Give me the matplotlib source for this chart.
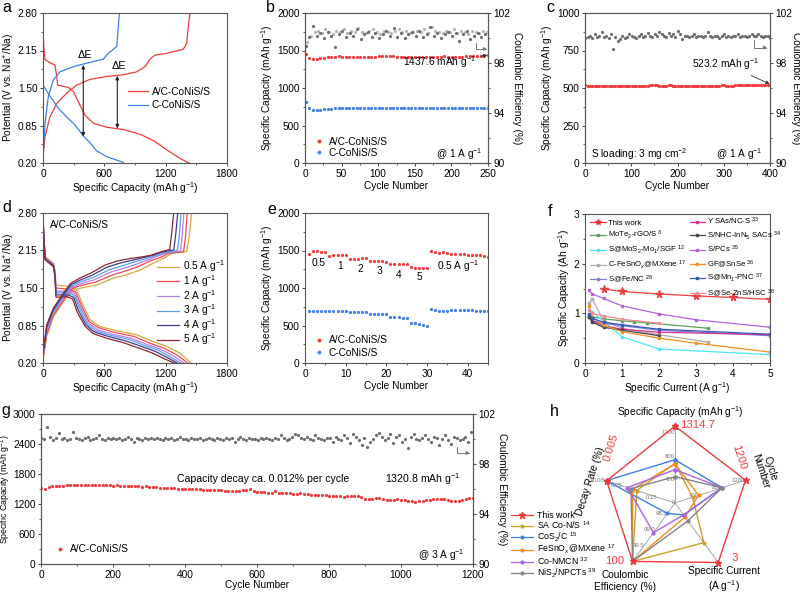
import numpy as np
import matplotlib
matplotlib.use('Agg')
import matplotlib.pyplot as plt
from matplotlib.ticker import AutoMinorLocator, FormatStrFormatter
from matplotlib.lines import Line2D

# ---------------- data ----------------
# panel a : charge/discharge profiles
a_ac_dis_cap = [0, 8, 20, 68, 117, 134, 143, 248, 297, 346, 411, 492, 623, 786, 949, 1079, 1209, 1340, 1438]
a_ac_dis_v = [2.55, 2.2, 1.99, 1.94, 1.90, 1.70, 1.55, 1.51, 1.44, 1.26, 1.03, 0.89, 0.82, 0.78, 0.70, 0.59, 0.43, 0.28, 0.19]
a_ac_ch_cap = [0, 20, 68, 134, 231, 329, 460, 623, 786, 916, 998, 1047, 1095, 1209, 1372, 1405, 1421, 1438]
a_ac_ch_v = [0.31, 0.66, 1.00, 1.23, 1.41, 1.55, 1.65, 1.70, 1.73, 1.78, 1.87, 2.00, 2.07, 2.10, 2.17, 2.27, 2.56, 2.80]
a_c_dis_cap = [0, 68, 150, 231, 313, 394, 460, 525, 623, 786]
a_c_dis_v = [1.55, 1.36, 1.15, 1.00, 0.86, 0.67, 0.55, 0.41, 0.31, 0.21]
a_c_ch_cap = [0, 20, 52, 101, 166, 297, 427, 590, 639, 721, 737, 747]
a_c_ch_v = [0.37, 0.89, 1.35, 1.64, 1.78, 1.87, 1.93, 2.00, 2.10, 2.22, 2.56, 2.80]
a_de_x = [394, 727]
a_de_low = [0.66, 0.80]
a_de_high = [1.90, 1.71]

# panel b : cycling at 1 A/g (every 5 cycles)
b_ac = [1460, 1395, 1390, 1393, 1398, 1402, 1408, 1415, 1420, 1421, 1419, 1416, 1414, 1416, 1418, 1417, 1415,
        1414, 1416, 1419, 1421, 1423, 1425, 1424, 1422, 1420, 1418, 1417, 1416, 1418, 1420, 1419, 1417, 1416,
        1415, 1416, 1418, 1420, 1421, 1420, 1418, 1417, 1416, 1418, 1421, 1423, 1425, 1427, 1430, 1433, 1437.6]
b_c = [808, 730, 705, 708, 712, 718, 722, 726, 728, 730, 731, 732, 733, 734, 735, 734, 733, 732, 731, 730, 730,
       729, 729, 728, 728, 728, 729, 729, 730, 730, 730, 731, 731, 731, 732, 732, 733, 733, 734, 734, 735, 735,
       736, 736, 737, 737, 738, 738, 737, 737, 736]
b_ce1 = [99.4, 100.1, 101.0, 100.2, 100.4, 100.0, 100.5, 100.2, 99.3, 100.3, 100.6, 100.1, 100.4, 100.2, 100.7,
         99.9, 100.3, 100.5, 100.1, 100.4, 100.0, 100.3, 100.6, 100.2, 100.8, 100.1, 100.4, 100.0, 100.3, 100.5,
         100.2, 100.6, 100.1, 100.3, 100.9, 100.2, 100.4, 100.0, 100.3, 100.5, 100.2, 100.4, 99.8, 100.3, 100.6,
         99.9, 100.2, 100.4, 100.1, 100.3]
b_ce2 = [99.7, 100.2, 100.5, 100.6, 100.4, 100.7, 100.5, 100.3, 100.6, 100.5, 100.7, 100.4, 100.6, 100.5, 100.8,
         100.5, 100.4, 100.6, 100.7, 100.5, 100.3, 100.6, 100.5, 100.4, 100.6, 100.7, 100.5, 100.6, 100.4, 100.5,
         100.6, 100.5, 100.7, 100.4, 100.9, 100.6, 100.5, 100.4, 100.6, 100.5, 100.7, 100.4, 100.6, 100.5, 100.3,
         100.6, 100.5, 100.4, 100.6, 100.5]

# panel c : high loading (every 5 cycles)
c_ac = [520, 516, 515, 514, 513, 513, 514, 515, 514, 513, 512, 512, 513, 514, 513, 512, 512, 513, 514, 515, 514,
        513, 513, 512, 513, 514, 515, 516, 517, 517, 518, 517, 516, 515, 515, 516, 517, 517, 516, 515, 514, 514,
        515, 515, 516, 515, 514, 514, 513, 513, 514, 515, 516, 516, 515, 514, 514, 515, 516, 517, 517, 516, 515,
        515, 516, 517, 518, 518, 519, 519, 520, 520, 519, 519, 520, 521, 521, 522, 522, 523, 523.2]
c_ce = [100.0, 100.1, 100.2, 100.0, 100.3, 100.1, 100.2, 100.5, 100.1, 100.2, 100.0, 100.3, 99.1, 100.1, 99.8,
        99.9, 100.2, 100.0, 100.1, 100.3, 100.2, 100.1, 100.0, 100.2, 100.3, 100.1, 100.2, 100.4, 100.2, 100.1,
        100.3, 100.2, 100.5, 100.3, 100.2, 100.1, 100.4, 100.2, 100.3, 100.1, 100.6, 100.3, 99.9, 100.2, 100.2,
        100.1, 100.2, 100.3, 100.1, 100.2, 100.2, 100.1, 100.2, 100.5, 100.2, 100.1, 100.2, 100.2, 100.0, 100.2,
        100.3, 100.1, 100.2, 100.1, 100.2, 100.2, 100.3, 100.1, 100.2, 100.2, 100.1, 100.2, 100.3, 100.2, 100.2,
        100.3, 100.2, 100.1, 100.2, 100.2, 100.0]

# panel d : rate profiles
d_rates = ['0.5 A g$^{-1}$', '1 A g$^{-1}$', '2 A g$^{-1}$', '3 A g$^{-1}$', '4 A g$^{-1}$', '5 A g$^{-1}$']
d_colors = ['#d4a83a', '#f0474f', '#b77de6', '#5e9ce8', '#3a3f8c', '#8c2630']
d_dis_cap = [
    [0, 20, 101, 117, 127, 248, 329, 378, 460, 557, 720, 916, 1079, 1209, 1340, 1454],
    [0, 20, 101, 117, 127, 248, 320, 370, 450, 545, 700, 890, 1050, 1180, 1310, 1425],
    [0, 20, 101, 117, 127, 248, 315, 362, 440, 530, 680, 860, 1020, 1150, 1280, 1390],
    [0, 20, 101, 117, 127, 248, 310, 355, 430, 515, 660, 840, 1000, 1130, 1250, 1360],
    [0, 20, 101, 117, 127, 240, 300, 345, 420, 500, 640, 815, 975, 1100, 1220, 1325],
    [0, 20, 101, 117, 127, 230, 290, 335, 410, 490, 620, 790, 950, 1075, 1190, 1295]]
d_dis_v = [
    [2.74, 2.04, 1.93, 1.81, 1.55, 1.53, 1.47, 1.26, 0.95, 0.83, 0.76, 0.69, 0.57, 0.49, 0.37, 0.19],
    [2.72, 2.03, 1.92, 1.78, 1.50, 1.48, 1.43, 1.22, 0.92, 0.81, 0.73, 0.66, 0.54, 0.46, 0.34, 0.19],
    [2.70, 2.02, 1.91, 1.76, 1.45, 1.44, 1.40, 1.19, 0.90, 0.78, 0.70, 0.63, 0.52, 0.44, 0.32, 0.19],
    [2.69, 2.01, 1.90, 1.74, 1.42, 1.41, 1.37, 1.16, 0.88, 0.76, 0.68, 0.61, 0.50, 0.42, 0.30, 0.19],
    [2.68, 2.00, 1.89, 1.72, 1.38, 1.38, 1.34, 1.12, 0.86, 0.74, 0.66, 0.58, 0.48, 0.40, 0.29, 0.19],
    [2.67, 1.99, 1.87, 1.70, 1.34, 1.35, 1.31, 1.08, 0.84, 0.71, 0.63, 0.55, 0.45, 0.37, 0.27, 0.19]]
d_ch_cap = [
    [0, 36, 101, 199, 297, 427, 525, 688, 818, 949, 1079, 1177, 1258, 1405, 1431, 1454],
    [0, 36, 101, 199, 290, 410, 510, 670, 800, 930, 1050, 1150, 1230, 1375, 1395, 1410],
    [0, 36, 101, 199, 285, 400, 500, 655, 785, 910, 1030, 1120, 1200, 1345, 1362, 1378],
    [0, 36, 101, 199, 280, 390, 490, 640, 770, 890, 1010, 1100, 1180, 1315, 1335, 1350],
    [0, 36, 101, 199, 275, 380, 480, 625, 750, 870, 990, 1080, 1160, 1280, 1300, 1318],
    [0, 36, 101, 199, 270, 370, 470, 610, 730, 850, 970, 1060, 1140, 1240, 1262, 1278]]
d_ch_v = [
    [0.25, 0.66, 1.00, 1.26, 1.47, 1.52, 1.55, 1.67, 1.73, 1.81, 1.93, 2.01, 2.10, 2.13, 2.39, 2.80],
    [0.28, 0.70, 1.03, 1.29, 1.50, 1.56, 1.60, 1.72, 1.79, 1.87, 1.97, 2.03, 2.10, 2.13, 2.40, 2.80],
    [0.31, 0.74, 1.06, 1.32, 1.52, 1.59, 1.64, 1.77, 1.84, 1.91, 1.99, 2.05, 2.10, 2.14, 2.42, 2.80],
    [0.33, 0.78, 1.09, 1.35, 1.54, 1.62, 1.68, 1.81, 1.88, 1.95, 2.01, 2.06, 2.11, 2.15, 2.44, 2.80],
    [0.35, 0.82, 1.12, 1.38, 1.56, 1.65, 1.72, 1.86, 1.93, 1.98, 2.03, 2.07, 2.12, 2.16, 2.46, 2.80],
    [0.37, 0.86, 1.15, 1.41, 1.58, 1.68, 1.76, 1.90, 1.97, 2.01, 2.04, 2.07, 2.12, 2.17, 2.50, 2.80]]

# panel e : rate capability
e_ac = [1460, 1490, 1490, 1485, 1480, 1430, 1445, 1445, 1440, 1440, 1385, 1390, 1390, 1395, 1395,
        1360, 1355, 1355, 1355, 1350, 1320, 1320, 1320, 1320, 1320, 1275, 1270, 1270, 1270, 1268,
        1490, 1478, 1468, 1475, 1462, 1452, 1458, 1455, 1452, 1446, 1442, 1440, 1436, 1430, 1415]
e_c = [690, 695, 695, 695, 695, 700, 700, 700, 700, 700, 685, 685, 685, 685, 685,
       660, 660, 660, 660, 655, 615, 615, 610, 605, 595, 540, 530, 520, 510, 500,
       715, 705, 700, 700, 700, 702, 705, 705, 705, 705, 702, 700, 700, 700, 700]
e_labels = ['0.5', '1', '2', '3', '4', '5', '0.5 A g$^{-1}$']
e_label_x = [3.3, 8.6, 13.5, 18.4, 22.9, 28.2, 37.6]
e_label_y = [1333, 1289, 1258, 1222, 1178, 1142, 1289]

# panel f : comparison
f_names = ['This work', 'MoTe$_2$-rGO/S $^{3}$', 'S@MoS$_2$-Mo$_1$/SGF $^{12}$', 'C-FeSnO$_x$@MXene $^{17}$',
           'S@Fe/NC $^{28}$', 'Y SAs/NC-S $^{33}$', 'S/NHC-InN$_5$ SACs $^{34}$', 'S/PCs $^{35}$',
           'GF@SnSe $^{36}$', 'S@Mn$_1$-PNC $^{37}$', 'S@Se-ZnS/HSC $^{38}$']
f_colors = ['#f03c3c', '#5aa05a', '#4fe6f0', '#b3aaa8', '#8080d8', '#d8308e', '#454545', '#b262e2',
            '#f09020', '#3858b8', '#f28a94']
f_x = [[0.5, 1, 2, 3, 4, 5],
       [0.1, 0.2, 0.5, 1, 1.33, 1.67, 3.33],
       [0.1, 0.2, 0.5, 1, 2, 5],
       [0.1, 0.2, 0.5, 1, 2, 3.33],
       [0.1, 0.2, 0.5, 1, 2, 5],
       [0.1, 0.2, 0.5, 1, 2, 5],
       [0.1, 0.2, 0.5, 1, 2],
       [0.1, 0.2, 0.5, 1, 2, 3, 5],
       [0.1, 0.2, 0.5, 1, 2, 3, 5],
       [0.1, 0.2, 0.5, 1, 2, 5],
       [0.1, 0.2, 0.5, 1, 2]]
f_y = [[1.49, 1.44, 1.39, 1.35, 1.32, 1.28],
       [0.95, 0.93, 0.89, 0.85, 0.83, 0.81, 0.70],
       [0.98, 1.03, 0.84, 0.53, 0.28, 0.17],
       [1.20, 1.29, 0.85, 0.70, 0.57, 0.42],
       [0.95, 0.85, 0.80, 0.75, 0.66, 0.55],
       [0.92, 0.85, 0.75, 0.68, 0.62, 0.57],
       [0.93, 0.82, 0.72, 0.66, 0.55],
       [1.47, 1.39, 1.30, 1.15, 0.99, 0.87, 0.72],
       [1.15, 0.92, 0.76, 0.63, 0.50, 0.40, 0.22],
       [0.99, 0.90, 0.82, 0.77, 0.68, 0.58],
       [1.07, 1.00, 0.95, 0.88, 0.80]]

# panel g : long cycling at 3 A/g (capacity every 10 cycles, CE every 8 cycles)
g_ac = [1530, 1500, 1540, 1555, 1560, 1565, 1570, 1575, 1578, 1580, 1582,
        1585, 1590, 1585, 1580, 1578, 1575, 1580, 1578, 1575, 1570,
        1572, 1568, 1565, 1560, 1562, 1558, 1555, 1550, 1552, 1548,
        1540, 1535, 1530, 1525, 1520, 1515, 1512, 1510, 1505, 1500,
        1498, 1496, 1495, 1492, 1490, 1488, 1485, 1482, 1478, 1475,
        1470, 1468, 1465, 1468, 1470, 1472, 1478, 1495, 1470, 1445,
        1440, 1435, 1430, 1425, 1460, 1430, 1420, 1415, 1412, 1408,
        1410, 1430, 1410, 1395, 1385, 1380, 1378, 1375, 1372, 1370,
        1365, 1360, 1355, 1350, 1352, 1355, 1360, 1365, 1340, 1310,
        1305, 1310, 1315, 1312, 1300, 1285, 1280, 1290, 1295, 1290,
        1285, 1270, 1260, 1250, 1255, 1265, 1275, 1290, 1300, 1305,
        1310, 1300, 1280, 1265, 1260, 1270, 1285, 1300, 1315, 1320.8]
g_ce = [100.1, 100.0, 101.0, 100.2, 99.9, 100.1, 100.5, 100.0, 100.1, 99.9,
        100.0, 100.6, 100.1, 100.0, 99.95, 100.1, 100.2, 99.9, 100.0, 100.1,
        100.3, 100.0, 99.9, 100.1, 100.0, 100.1, 100.0, 100.1, 99.9, 100.0,
        100.2, 100.0, 99.8, 100.1, 100.0, 99.9, 100.1, 100.0, 100.1, 100.0,
        100.1, 100.0, 99.9, 100.1, 100.0, 100.1, 99.95, 100.0, 100.2, 100.0,
        100.0, 99.9, 100.1, 100.0, 100.0, 100.1, 99.9, 100.0, 100.1, 100.0,
        99.95, 100.1, 100.0, 99.9, 100.1, 100.0, 100.1, 99.8, 100.0, 100.2,
        100.0, 99.9, 100.1, 100.0, 100.0, 99.9, 100.1, 100.0, 100.1, 100.0,
        99.9, 100.1, 100.0, 100.3, 100.1, 99.9, 100.0, 100.2, 100.4, 100.3,
        100.1, 100.0, 100.2, 100.0, 99.9, 100.3, 100.1, 100.0, 99.9, 100.1,
        100.1, 99.8, 100.2, 100.0, 99.9, 100.3, 100.1, 99.7, 100.4, 100.2,
        99.9, 99.5, 100.1, 99.4, 99.8, 100.0, 100.3, 100.5, 100.2, 99.9,
        100.1, 100.4, 99.7, 100.2, 100.3, 99.8, 100.0, 99.3, 100.2, 100.4,
        100.0, 99.9, 100.1, 100.3, 100.0, 99.8, 100.2, 100.1, 99.5, 100.0,
        100.3, 99.9, 99.6, 100.2, 100.1, 99.9, 100.0, 100.2, 99.8, 100.6]

# panel h : radar comparison
h_names = ['This work', 'SA Co-N/S $^{14}$', 'CoS$_2$/C $^{15}$', 'FeSnO$_x$@MXene $^{17}$',
           'Co-NMCN $^{32}$', 'NiS$_2$/NPCTs $^{39}$']
h_colors = ['#f03a3a', '#c9a22a', '#3f7fe0', '#f28a1e', '#a862e8', '#858585']
h_capacity = [1314.7, 680, 740, 670, 570, 450]
h_cycle = [1200, 300, 800, 400, 800, 800]
h_current = [3, 2, 0.6, 0.7, 0.6, 0.9]
h_ce = [100, 100, 98.5, 100, 99.1, 100]
h_decay = [0.005, 0.092, 0.004, 0.08, 0.065, 0.075]

# ---------------- style ----------------
plt.rcParams.update({
    'font.family': ['Liberation Sans', 'DejaVu Sans'],
    'mathtext.fontset': 'custom',
    'mathtext.rm': 'Liberation Sans',
    'mathtext.it': 'Liberation Sans:italic',
    'mathtext.bf': 'Liberation Sans:bold',
    'font.size': 7.3,
    'axes.linewidth': 0.8,
    'axes.edgecolor': '#555555',
    'axes.labelsize': 7.3,
    'axes.labelpad': 1.5,
    'xtick.direction': 'out', 'ytick.direction': 'out',
    'xtick.major.size': 2.5, 'ytick.major.size': 2.5,
    'xtick.minor.size': 1.5, 'ytick.minor.size': 1.5,
    'xtick.major.width': 0.7, 'ytick.major.width': 0.7,
    'xtick.minor.width': 0.6, 'ytick.minor.width': 0.6,
    'xtick.color': '#444444', 'ytick.color': '#444444',
    'xtick.labelcolor': 'black', 'ytick.labelcolor': 'black',
    'xtick.labelsize': 7.3, 'ytick.labelsize': 7.3,
    'xtick.major.pad': 1.5, 'ytick.major.pad': 1.5,
})

RED = '#ee3b3b'
BLUE = '#3f7fe3'
GREY_D = '#6e6e6e'
GREY_L = '#b5b5b5'
W, H = 800, 594

fig = plt.figure(figsize=(8.0, 5.94), dpi=100)


def add_ax(l, t, r, b, **kw):
    return fig.add_axes([l / W, 1 - b / H, (r - l) / W, (b - t) / H], **kw)


def minors(ax):
    ax.xaxis.set_minor_locator(AutoMinorLocator(2))
    ax.yaxis.set_minor_locator(AutoMinorLocator(2))


def right_arrow(ax, x0, y0, x1, y1):
    ax.annotate('', xy=(x1, y1), xytext=(x0, y0), xycoords='axes fraction', textcoords='axes fraction',
                arrowprops=dict(arrowstyle='-|>', color='#777777', lw=0.7, mutation_scale=5,
                                connectionstyle='angle,angleA=90,angleB=0,rad=0', shrinkA=0, shrinkB=0))


def ce_axis(ax, pad=8):
    ax2 = ax.twinx()
    ax2.set_ylim(90, 102)
    ax2.set_yticks([90, 94, 98, 102])
    ax2.yaxis.set_minor_locator(AutoMinorLocator(2))
    ax2.set_ylabel('Coulombic Efficiency (%)', rotation=270, labelpad=pad)
    return ax2


# ---------------- panel a ----------------
ax = add_ax(43, 13, 227, 163)
ax.plot(a_ac_dis_cap, a_ac_dis_v, color=RED, lw=0.9, label='A/C-CoNiS/S')
ax.plot(a_ac_ch_cap, a_ac_ch_v, color=RED, lw=0.9)
ax.plot(a_c_dis_cap, a_c_dis_v, color=BLUE, lw=0.9, label='C-CoNiS/S')
ax.plot(a_c_ch_cap, a_c_ch_v, color=BLUE, lw=0.9)
for xx, lo, hi in zip(a_de_x, a_de_low, a_de_high):
    ax.annotate('', xy=(xx, lo), xytext=(xx, hi),
                arrowprops=dict(arrowstyle='<|-|>', color='#222222', lw=0.8, mutation_scale=5,
                                shrinkA=0, shrinkB=0))
    ax.text(xx + 20, hi + 0.17, 'ΔE', ha='center', va='center', fontsize=7.8)
ax.set_xlim(0, 1800)
ax.set_ylim(0.2, 2.8)
ax.set_xticks([0, 600, 1200, 1800])
ax.set_yticks([0.2, 0.85, 1.5, 2.15, 2.8])
ax.yaxis.set_major_formatter(FormatStrFormatter('%.2f'))
minors(ax)
ax.set_xlabel('Specific Capacity (mAh g$^{-1}$)')
ax.set_ylabel('Potential (V vs. Na$^{+}$/Na)', labelpad=0.5)
ax.legend(loc='center left', bbox_to_anchor=(0.46, 0.43), frameon=False, fontsize=7.3,
          handlelength=2.0, handletextpad=0.4, borderpad=0, borderaxespad=0, labelspacing=0.35)

# ---------------- panel b ----------------
ax = add_ax(305, 13, 488, 163)
xb = np.linspace(1, 250, len(b_ac))
ax.plot(xb, b_ac, 'o', ms=2.3, mew=0, color=RED, label='A/C-CoNiS/S')
ax.plot(np.linspace(1, 250, len(b_c)), b_c, 'o', ms=2.3, mew=0, color=BLUE, label='C-CoNiS/S')
ax.set_xlim(0, 250)
ax.set_ylim(0, 2000)
ax.set_xticks(np.arange(0, 251, 50))
ax.set_yticks(np.arange(0, 2001, 500))
minors(ax)
ax.set_xlabel('Cycle Number')
ax.set_ylabel('Specific Capacity (mAh g$^{-1}$)')
ax.legend(loc='lower left', bbox_to_anchor=(0.02, 0.0), frameon=False, fontsize=7.3, handlelength=1,
          handletextpad=0.5, borderpad=0, labelspacing=0.1, markerscale=1.2)
ax.text(0.97, 0.06, '@ 1 A g$^{-1}$', transform=ax.transAxes, ha='right', va='center')
ax.annotate('1437.6 mAh g$^{-1}$', xy=(249, 1437.6), xytext=(184, 1345), ha='center', va='center',
            fontsize=7.3, arrowprops=dict(arrowstyle='-|>', color='#333333', lw=0.6, mutation_scale=5,
                                          shrinkA=1, shrinkB=0))
ax2 = ce_axis(ax)
ax2.plot(np.linspace(3, 248, len(b_ce2)), b_ce2, 'o', ms=2.3, mew=0, color=GREY_L)
ax2.plot(np.linspace(1, 246, len(b_ce1)), b_ce1, 'o', ms=2.3, mew=0, color=GREY_D)
right_arrow(ax2, 0.935, 0.80, 0.995, 0.76)

# ---------------- panel c ----------------
ax = add_ax(585, 13, 770, 163)
ax.plot(np.linspace(1, 400, len(c_ac)), c_ac, 'o', ms=2.3, mew=0, color=RED)
ax.set_xlim(0, 400)
ax.set_ylim(0, 1000)
ax.set_xticks(np.arange(0, 401, 100))
ax.set_yticks(np.arange(0, 1001, 250))
minors(ax)
ax.set_xlabel('Cycle Number')
ax.set_ylabel('Specific Capacity (mAh g$^{-1}$)')
ax.text(0.03, 0.06, 'S loading: 3 mg cm$^{-2}$', transform=ax.transAxes, ha='left', va='center')
ax.text(0.96, 0.06, '@ 1 A g$^{-1}$', transform=ax.transAxes, ha='right', va='center')
ax.annotate('523.2 mAh g$^{-1}$', xy=(399, 528), xytext=(305, 658), ha='center', va='center',
            fontsize=7.3, arrowprops=dict(arrowstyle='-|>', color='#333333', lw=0.6, mutation_scale=5,
                                          shrinkA=1, shrinkB=0))
ax2 = ce_axis(ax, pad=6)
ax2.plot(np.linspace(1, 400, len(c_ce)), c_ce, 'o', ms=2.3, mew=0, color=GREY_D)
right_arrow(ax2, 0.915, 0.82, 0.985, 0.77)

# ---------------- panel d ----------------
ax = add_ax(43, 213, 227, 363)
for lab, col, dc, dv, cc, cv in zip(d_rates, d_colors, d_dis_cap, d_dis_v, d_ch_cap, d_ch_v):
    ax.plot(dc, dv, color=col, lw=0.9, label=lab)
    ax.plot(cc, cv, color=col, lw=0.9)
ax.set_xlim(0, 1800)
ax.set_ylim(0.2, 2.8)
ax.set_xticks([0, 600, 1200, 1800])
ax.set_yticks([0.2, 0.85, 1.5, 2.15, 2.8])
ax.yaxis.set_major_formatter(FormatStrFormatter('%.2f'))
minors(ax)
ax.set_xlabel('Specific Capacity (mAh g$^{-1}$)')
ax.set_ylabel('Potential (V vs. Na$^{+}$/Na)', labelpad=0.5)
ax.text(0.04, 0.92, 'A/C-CoNiS/S', transform=ax.transAxes, ha='left', va='center')
ax.legend(loc='center left', bbox_to_anchor=(0.62, 0.40), frameon=False, fontsize=7.3,
          handlelength=2.2, handletextpad=0.4, borderpad=0, borderaxespad=0, labelspacing=-0.12)

# ---------------- panel e ----------------
ax = add_ax(305, 213, 488, 363)
xe = np.arange(1, len(e_ac) + 1)
ax.plot(xe, e_ac, 'o', ms=2.3, mew=0, color=RED, label='A/C-CoNiS/S')
ax.plot(np.arange(1, len(e_c) + 1), e_c, 'o', ms=2.3, mew=0, color=BLUE, label='C-CoNiS/S')
for t, tx, ty in zip(e_labels, e_label_x, e_label_y):
    ax.text(tx, ty, t, ha='center', va='center', fontsize=7.3)
ax.set_xlim(0, 45)
ax.set_ylim(0, 2000)
ax.set_xticks([0, 10, 20, 30, 40])
ax.set_yticks(np.arange(0, 2001, 500))
minors(ax)
ax.set_xlabel('Cycle Number')
ax.set_ylabel('Specific Capacity (mAh g$^{-1}$)')
ax.legend(loc='lower left', bbox_to_anchor=(0.02, 0.0), frameon=False, fontsize=7.3, handlelength=1,
          handletextpad=0.5, borderpad=0, labelspacing=0.25, markerscale=1.2)

# ---------------- panel f ----------------
ax = add_ax(585, 214, 770, 363)
handles = []
for i, (nm, col, xs, ys) in enumerate(zip(f_names, f_colors, f_x, f_y)):
    if i == 0:
        h, = ax.plot(xs, ys, '-*', color=col, lw=0.9, ms=5.5, label=nm)
    else:
        h, = ax.plot(xs, ys, '-s', color=col, lw=0.9, ms=1.8, label=nm)
    handles.append(h)
blank = Line2D([], [], color='none')
handles_leg = handles[:5] + [blank] + handles[5:]
labels_leg = f_names[:5] + [''] + f_names[5:]
ax.legend(handles_leg, labels_leg, ncol=2, loc='upper left', bbox_to_anchor=(0.0, 1.025), frameon=False,
          fontsize=5.6, handlelength=2.0, handletextpad=0.3, columnspacing=0.4, borderpad=0.2,
          labelspacing=0.3, markerscale=0.8)
ax.set_xlim(0, 5)
ax.set_ylim(0, 3)
ax.set_xticks(np.arange(0, 6, 1))
ax.set_yticks([0, 1, 2, 3])
minors(ax)
ax.set_xlabel('Specific Current (A g$^{-1}$)')
ax.set_ylabel('Specific Capacity (Ah g$^{-1}$)')

# ---------------- panel g ----------------
ax = add_ax(41, 414, 473, 564)
ax.plot(np.linspace(1, 1200, len(g_ac)), g_ac, 'o', ms=2.3, mew=0, color=RED, label='A/C-CoNiS/S')
ax.set_xlim(0, 1200)
ax.set_ylim(0, 3000)
ax.set_xticks(np.arange(0, 1201, 200))
ax.set_yticks(np.arange(0, 3001, 600))
minors(ax)
ax.set_xlabel('Cycle Number', labelpad=0)
ax.set_ylabel('Specific Capacity (mAh g$^{-1}$)', fontsize=6.3)
ax.yaxis.set_label_coords(-0.067, 0.5)
ax.legend(loc='lower left', bbox_to_anchor=(0.02, 0.03), frameon=False, fontsize=7.3, handlelength=1,
          handletextpad=0.5, borderpad=0, markerscale=1.2)
ax.text(618, 1700, 'Capacity decay ca. 0.012% per cycle', ha='center', va='center', fontsize=7.6)
ax.text(1061, 1700, '1320.8 mAh g$^{-1}$', ha='center', va='center', fontsize=7.6)
ax.text(0.98, 0.06, '@ 3 A g$^{-1}$', transform=ax.transAxes, ha='right', va='center')
ax2 = ce_axis(ax)
ax2.plot(np.linspace(1, 1195, len(g_ce)), g_ce, 'o', ms=2.3, mew=0, color=GREY_D)
right_arrow(ax2, 0.963, 0.78, 0.993, 0.74)

# ---------------- panel h (radar) ----------------
ang = np.deg2rad([90, 18, -54, -126, 162])
cap_r = lambda v: v / 1300.0
cyc_r = lambda v: v / 1230.0
cur_r = lambda v: v / 3.1
ce_r = lambda v: 0.17 + 0.52 * (v - 98.5)
dec_r = lambda v: 0.97 - 4.8 * v

R_EXT = 1.08
cx, cy, rpx = 675, 503, 76 * R_EXT
axh = add_ax(cx - rpx, cy - rpx, cx + rpx, cy + rpx, projection='polar')
axh.set_ylim(0, R_EXT)
axh.axis('off')
for a in ang:
    axh.plot([a, a], [0, 1.0], color='#999999', lw=0.6, zorder=1)

tick_sets = [
    (ang[0], [0, 400, 800, 1200], cap_r, ['0', '400', '800', '1200']),
    (ang[1], [400, 800, 1200], cyc_r, ['400', '800', '1200']),
    (ang[2], [2, 3], cur_r, ['2', '0']),
    (ang[3], [98.5, 99.0, 99.5], ce_r, ['98.5', '99.0', '99.5']),
    (ang[4], [0.0, 0.05, 0.10, 0.15], dec_r, ['0.00', '0.05', '0.10', '0.15']),
]
for a, vals, fn, labs in tick_sets:
    for v, lb in zip(vals, labs):
        axh.text(a, fn(v), lb, fontsize=4.3, color='#777777', ha='right', va='center', zorder=2)

for i, (nm, col) in enumerate(zip(h_names, h_colors)):
    rr = [cap_r(h_capacity[i]), cyc_r(h_cycle[i]), cur_r(h_current[i]), ce_r(h_ce[i]), dec_r(h_decay[i])]
    th = list(ang) + [ang[0]]
    rr = rr + [rr[0]]
    if i == 0:
        axh.plot(th, rr, '-*', color=col, lw=1.0, ms=5, zorder=4)
    else:
        axh.plot(th, rr, '-o', color=col, lw=1.0, ms=2, zorder=3)


def ftext(x, y, s, **kw):
    fig.text(x / W, 1 - y / H, s, **kw)


ftext(698, 425, '1314.7', color='#f03a3a', fontsize=8.2, ha='center', va='center')
ftext(739, 457, '1200', color='#f03a3a', fontsize=8.2, ha='center', va='center', rotation=-72)
ftext(735, 558, '3', color='#f03a3a', fontsize=8.2, ha='center', va='center')
ftext(615, 561, '100', color='#f03a3a', fontsize=8.2, ha='center', va='center')
ftext(611, 448, '0.005', color='#f03a3a', fontsize=8.2, ha='center', va='center', rotation=72)
# axis titles
ftext(680, 412, 'Specific Capacity (mAh g$^{-1}$)', fontsize=7.3, ha='center', va='center')
ftext(765, 470, 'Cycle\nNumber', fontsize=7.3, ha='center', va='center', rotation=-72, linespacing=1.0)
ftext(724, 580, 'Specific Current\n(A g$^{-1}$)', fontsize=7.3, ha='center', va='center', linespacing=1.15)
ftext(625, 581, 'Coulombic\nEfficiency (%)', fontsize=7.3, ha='center', va='center', linespacing=1.15)
ftext(590, 481, 'Decay Rate (%)', fontsize=7.3, ha='center', va='center', rotation=72)

h_handles = []
for i, col in enumerate(h_colors):
    if i == 0:
        h_handles.append(Line2D([], [], color=col, marker='*', ms=5, lw=0.9))
    else:
        h_handles.append(Line2D([], [], color=col, marker='o', ms=2, lw=0.9))
fig.legend(h_handles, h_names, loc='upper left', bbox_to_anchor=(507 / W, 1 - 507 / H), frameon=False,
           fontsize=6.3, handlelength=2.5, handletextpad=0.4, borderpad=0, labelspacing=-0.08)

# panel letters
for lt, (px, py) in zip('abcdefgh', [(7, 7), (270, 7), (550, 8), (7, 208), (272, 209), (550, 212),
                                     (6, 410), (554, 411)]):
    ftext(px, py, lt, fontsize=11.5, ha='center', va='center')

fig.savefig('out.png', dpi=100)
